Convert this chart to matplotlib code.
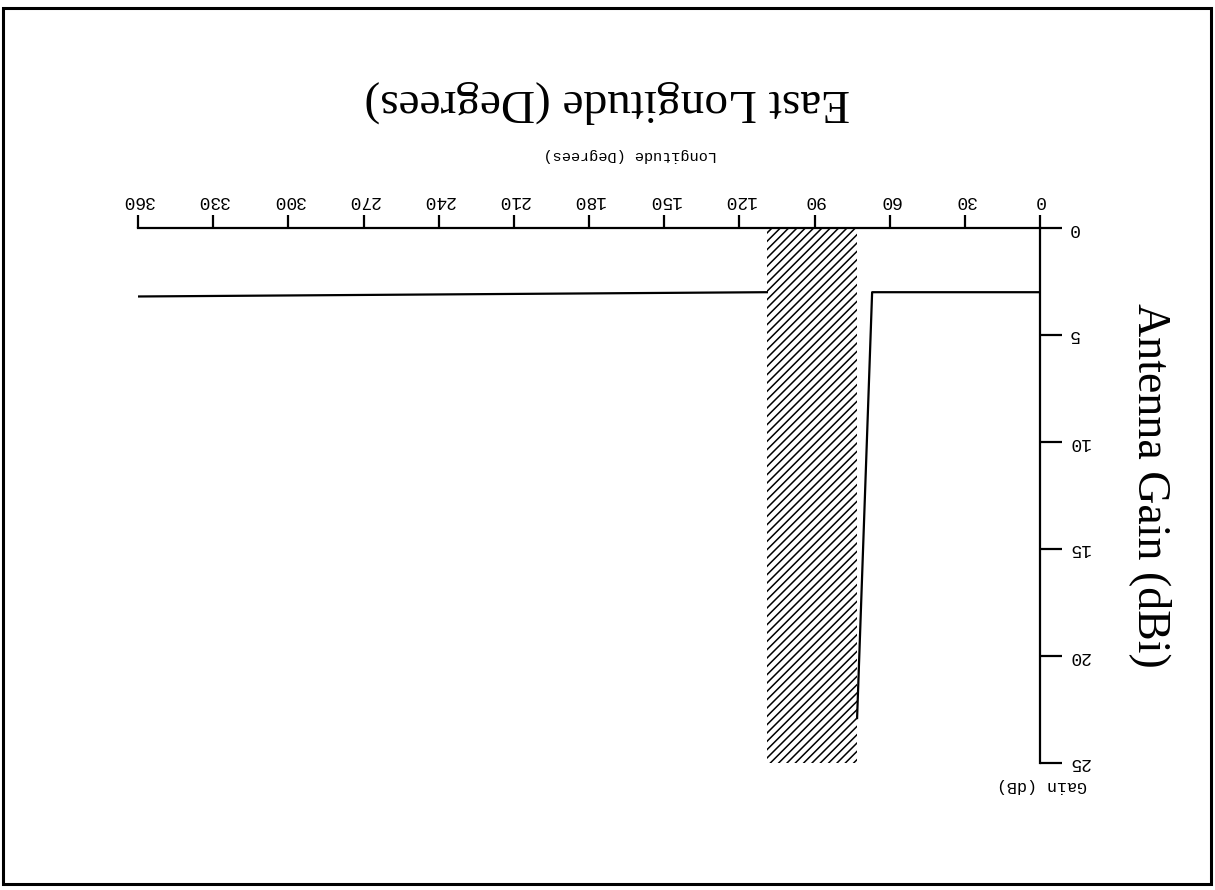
import matplotlib.pyplot as plt
from matplotlib.patches import Rectangle

# gain curve east of the gap (degrees, dB)
lon_east = [0, 67, 73]
gain_east = [3.0, 3.0, 22.9]
# gain curve west of the gap
lon_west = [109, 360]
gain_west = [3.0, 3.2]
# hatched band
band_lon = [73, 109]
band_gain = [0, 25]

x_ticks = list(range(0, 361, 30))
y_ticks = [0, 5, 10, 15, 20, 25]

plt.rcParams['hatch.linewidth'] = 1.1

W, H = 1215, 890
fig = plt.figure(figsize=(W / 100, H / 100), dpi=100)
fig.patch.set_facecolor('white')

def fx(px):
    return px / W

def fy(py):
    return 1 - py / H

ax = fig.add_axes([fx(138), fy(763), fx(1040) - fx(138), fy(228) - fy(763)])
ax.set_xlim(360, 0)
ax.set_ylim(25, 0)

ax.plot(lon_east, gain_east, color='black', lw=1.6)
ax.plot(lon_west, gain_west, color='black', lw=1.6)
ax.fill_between(band_lon, band_gain[0], band_gain[1], facecolor='none',
                edgecolor='black', hatch='////', linewidth=0)

for s in ['left', 'bottom']:
    ax.spines[s].set_visible(False)
for s in ['top', 'right']:
    ax.spines[s].set_linewidth(1.6)

ax.xaxis.tick_top()
ax.yaxis.tick_right()
ax.set_xticks(x_ticks)
ax.set_yticks(y_ticks)
ax.tick_params(axis='x', direction='out', length=9.5, width=1.6, pad=4)
ax.tick_params(axis='y', direction='out', length=16, width=1.6, pad=4)
ax.set_xticklabels([str(v) for v in x_ticks], rotation=180,
                   family='Liberation Mono', fontsize=13)
ax.set_yticklabels([str(v) for v in y_ticks], rotation=180,
                   family='Liberation Mono', fontsize=13, va='center')

fig.text(fx(607), fy(102), 'East Longitude (Degrees)', rotation=180,
         ha='center', va='center', family='Liberation Serif', fontsize=34)
fig.text(fx(1150), fy(485), 'Antenna Gain (dBi)', rotation=270,
         ha='center', va='center', family='Liberation Serif', fontsize=33)
fig.text(fx(630), fy(155), 'Longitude (Degrees)', rotation=180,
         ha='center', va='center', family='Liberation Mono', fontsize=11)
fig.text(fx(1042), fy(786), 'Gain (dB)', rotation=180,
         ha='center', va='center', family='Liberation Mono', fontsize=12)

# page frame of the scan
fig.patches.append(Rectangle((fx(3), fy(884)), fx(1211) - fx(3), fy(8) - fy(884),
                             transform=fig.transFigure, fill=False,
                             edgecolor='black', linewidth=2.2))

fig.savefig('out.png', dpi=100)
